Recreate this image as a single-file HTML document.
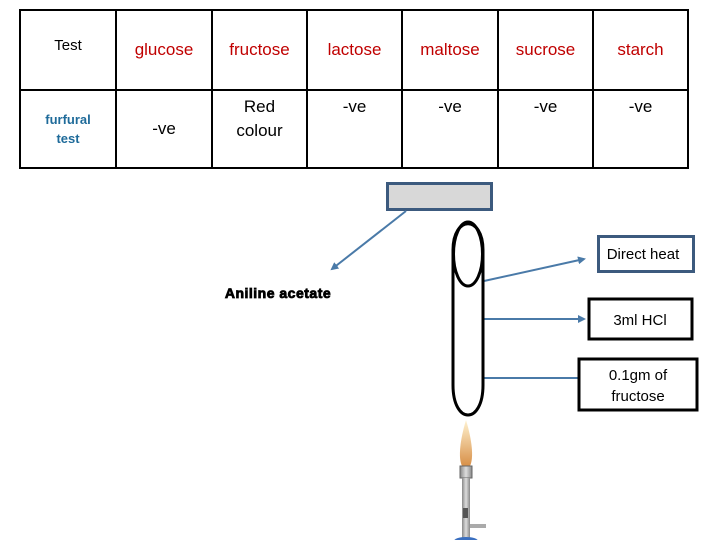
<!DOCTYPE html>
<html><head><style>
body{margin:0;width:720px;height:540px;background:#fff;overflow:hidden;position:relative;font-family:"Liberation Sans",sans-serif}
table{position:absolute;left:19px;top:9px;border-collapse:collapse}
td{border:2px solid #000;text-align:center;padding:0;font-size:17px}
.r{color:#c00000}
</style></head><body>
<table>
<tr style="height:80px">
<td style="width:94px;vertical-align:top;padding-top:26px;font-size:15px">Test</td>
<td class="r" style="width:94px">glucose</td>
<td class="r" style="width:93px">fructose</td>
<td class="r" style="width:93px">lactose</td>
<td class="r" style="width:94px">maltose</td>
<td class="r" style="width:93px">sucrose</td>
<td class="r" style="width:93px">starch</td>
</tr>
<tr style="height:78px">
<td style="color:#1f6b9a;font-weight:bold;font-size:13px;line-height:19px">furfural<br>test</td>
<td>-ve</td>
<td style="vertical-align:top;padding-top:4px;line-height:24px">Red<br>colour</td>
<td style="vertical-align:top;padding-top:6px">-ve</td>
<td style="vertical-align:top;padding-top:6px">-ve</td>
<td style="vertical-align:top;padding-top:6px">-ve</td>
<td style="vertical-align:top;padding-top:6px">-ve</td>
</tr>
</table>
<svg width="720" height="540" style="position:absolute;left:0;top:0">
<defs><marker id="a" markerWidth="4" markerHeight="4" refX="3" refY="2" orient="auto"><path d="M0,0L4,2L0,4z" fill="#4a7aa8"/></marker>
<linearGradient id="f" x1="0" y1="0" x2="0" y2="1"><stop offset="0" stop-color="#fff2d0"/><stop offset="1" stop-color="#d89048"/></linearGradient>
<linearGradient id="m" x1="0" x2="1"><stop offset="0" stop-color="#888"/><stop offset=".5" stop-color="#ddd"/><stop offset="1" stop-color="#888"/></linearGradient></defs>
<rect x="387.5" y="183.5" width="104" height="26" fill="#d8d8d8" stroke="#3c5a7e" stroke-width="3"/>
<g stroke="#4a7aa8" stroke-width="2" fill="none">
<line x1="406" y1="211" x2="332" y2="269" marker-end="url(#a)"/>
<line x1="484" y1="281" x2="584" y2="259" marker-end="url(#a)"/>
<line x1="484" y1="319" x2="584" y2="319" marker-end="url(#a)"/>
<line x1="484" y1="378" x2="584" y2="378" marker-end="url(#a)"/>
</g>
<path d="M453,250 C453,215 483,215 483,250 L483,385 C483,425 453,425 453,385 Z" fill="#fff" stroke="#000" stroke-width="3"/>
<ellipse cx="468" cy="254" rx="14.5" ry="32" fill="none" stroke="#000" stroke-width="3"/>
<rect x="598.5" y="236.5" width="95" height="35" fill="#fff" stroke="#3c5a7e" stroke-width="3"/>
<rect x="589" y="299" width="103" height="40" fill="#fff" stroke="#000" stroke-width="3"/>
<rect x="579" y="359" width="118" height="51" fill="#fff" stroke="#000" stroke-width="3"/>
<g font-family="Liberation Sans,sans-serif" font-size="15" text-anchor="middle" fill="#000">
<text x="643" y="259">Direct heat</text>
<text x="640" y="325">3ml HCl</text>
<text x="638" y="380">0.1gm of</text>
<text x="638" y="401">fructose</text>
<text x="278" y="298" font-size="14" font-weight="bold" stroke="#000" stroke-width=".8" letter-spacing=".5">Aniline acetate</text>
</g>
<path d="M466,420 C460,440 458,458 462,466 L470,466 C474,458 472,440 466,420z" fill="url(#f)"/>
<rect x="460" y="466" width="12" height="12" fill="url(#m)" stroke="#666"/>
<rect x="462" y="478" width="8" height="60" fill="url(#m)"/>
<rect x="463" y="508" width="5" height="10" fill="#555"/>
<rect x="470" y="524" width="16" height="4" fill="#aaa"/>
<ellipse cx="466" cy="541" rx="12" ry="4" fill="#3a6fc0"/>
</svg>
</body></html>
